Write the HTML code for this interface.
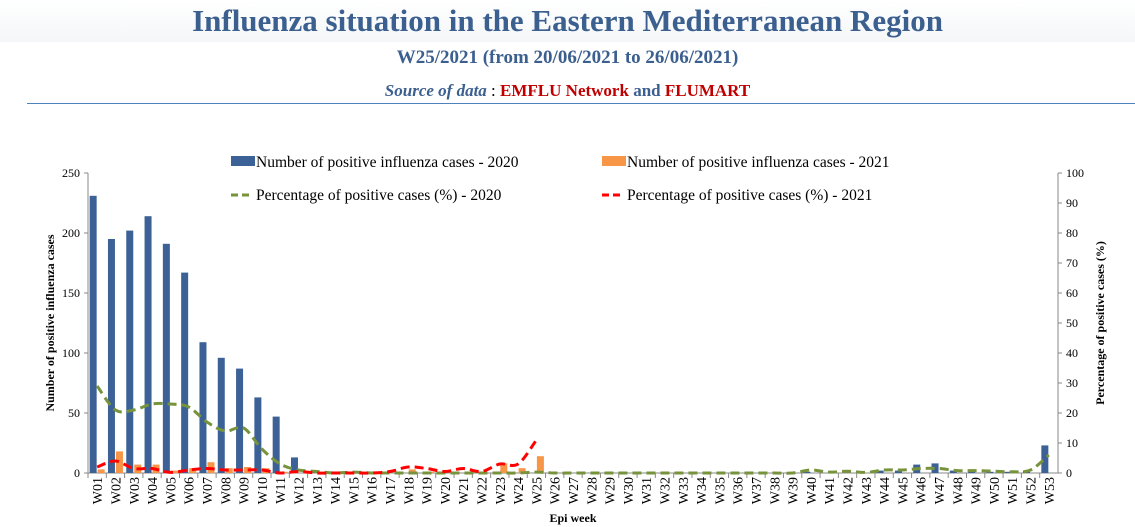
<!DOCTYPE html>
<html><head><meta charset="utf-8"><style>
body{margin:0;width:1135px;height:527px;background:#fff;overflow:hidden;font-family:"Liberation Serif",serif;}
#hdr{position:absolute;left:0;top:0;width:1135px;height:42px;background:linear-gradient(#fff,#f4f6f8);}
.t{position:absolute;left:0;width:1135px;text-align:center;font-weight:bold;color:#3b5f8f;}
</style></head><body>
<div id="hdr"></div>
<div class="t" style="top:3px;font-size:31px;">Influenza situation in the Eastern Mediterranean Region</div>
<div class="t" style="top:47px;font-size:19px;">W25/2021 (from 20/06/2021 to 26/06/2021)</div>
<div class="t" style="top:81px;font-size:17px;"><i>Source of data</i> <span style="font-weight:normal;color:#000">:</span> <span style="color:#c00000">EMFLU Network</span> and <span style="color:#c00000">FLUMART</span></div>
<div style="position:absolute;left:27px;top:103px;width:1108px;height:1px;background:#4f81bd"></div>
<svg id="chart" width="1135" height="527" style="position:absolute;left:0;top:0" font-family="Liberation Serif, serif"></svg>
<script>
const weeks=[];for(let i=1;i<=53;i++)weeks.push('W'+String(i).padStart(2,'0'));
const cases2020=[231,195,202,214,191,167,109,96,87,63,47,13,1,1,0,0,0,0,0,0,0,0,0,0,0,0,0,0,0,0,0,0,0,0,0,0,0,0,0,1,0,0,0,2,2,7,8,2,1,1,1,2,23];
const cases2021=[3,18,7,7,2,4,9,4,5,4,1,0,0,0,0,0,0,3,1,0,0,0,8,4,14];
const pct2020=[29,21,21,23,23,22,17,14,15,8,3,1,0.5,0,0.3,0,0,0,0,0,0,0,0,0,0.3,0,0,0,0,0,0,0,0,0,0,0,0,0,0,1,0.3,0.6,0.2,1,1,1.5,1.5,0.8,0.8,0.6,0.4,1,6];
const pct2021=[2,4,1.5,1.5,0.2,1,1.5,1,1,1,0,0.5,0,0,0,0,0.5,2,1.5,0.5,1.5,0.5,3,3,11];
const leftTicks=[0,50,100,150,200,250];
const rightTicks=[0,10,20,30,40,50,60,70,80,90,100];
const NS='http://www.w3.org/2000/svg',svg=document.getElementById('chart');
const X0=88,X1=1058,Y0=473,Y1=173,bw=(X1-X0)/weeks.length;
const xc=i=>X0+bw*(i+0.5),yl=v=>Y0-(v/250)*(Y0-Y1),yr=v=>Y0-(v/100)*(Y0-Y1);
function mk(t,a,txt){const e=document.createElementNS(NS,t);for(const k in a)e.setAttribute(k,a[k]);if(txt!=null)e.textContent=txt;svg.appendChild(e);return e;}
let e;
e=mk('line',{x1:X0,y1:Y1,x2:X0,y2:Y0,stroke:'#888'});
e=mk('line',{x1:X1,y1:Y1,x2:X1,y2:Y0,stroke:'#888'});
e=mk('line',{x1:X0,y1:Y0,x2:X1,y2:Y0,stroke:'#888'});
leftTicks.forEach(v=>{mk('line',{x1:X0-4,y1:yl(v),x2:X0,y2:yl(v),stroke:'#888'});
e=mk('text',{x:X0-8,y:yl(v)+4,'text-anchor':'end','font-size':12},v);});
rightTicks.forEach(v=>{mk('line',{x1:X1,y1:yr(v),x2:X1+4,y2:yr(v),stroke:'#888'});
e=mk('text',{x:X1+8,y:yr(v)+4,'font-size':12},v);});
weeks.forEach((w,i)=>{mk('line',{x1:X0+bw*i,y1:Y0,x2:X0+bw*i,y2:Y0+5,stroke:'#888'});
e=mk('text',{x:0,y:0,'font-size':14,'text-anchor':'end',transform:`translate(${xc(i)+5},${Y0+4}) rotate(-90)`},w);});
const w=7;
cases2020.forEach((v,i)=>{e=mk('rect',{x:xc(i)-w-0.5,y:yl(v),width:w,height:Y0-yl(v),fill:'#3b6196'});});
cases2021.forEach((v,i)=>{e=mk('rect',{x:xc(i)+0.5,y:yl(v),width:w,height:Y0-yl(v),fill:'#f79646'});});
function smooth(arr){const p=arr.map((v,i)=>[xc(i),yr(v)]);let d=`M${p[0][0]},${p[0][1]}`;
for(let i=0;i<p.length-1;i++){const a=p[Math.max(i-1,0)],b=p[i],c=p[i+1],dd=p[Math.min(i+2,p.length-1)];
d+=` C${b[0]+(c[0]-a[0])/6},${b[1]+(c[1]-a[1])/6} ${c[0]-(dd[0]-b[0])/6},${c[1]-(dd[1]-b[1])/6} ${c[0]},${c[1]}`;}return d;}
e=mk('path',{d:smooth(pct2020),fill:'none',stroke:'#77933c','stroke-width':3,'stroke-dasharray':'9,5'});
e=mk('path',{d:smooth(pct2021),fill:'none',stroke:'#ff0000','stroke-width':3,'stroke-dasharray':'9,5'});
e=mk('text',{x:0,y:0,'font-size':12,'font-weight':'bold','text-anchor':'middle',transform:'translate(54,323) rotate(-90)'},'Number of positive influenza cases');
e=mk('text',{x:0,y:0,'font-size':12,'font-weight':'bold','text-anchor':'middle',transform:'translate(1104,323) rotate(-90)'},'Percentage of positive cases (%)');
e=mk('text',{x:573,y:522,'font-size':12,'font-weight':'bold','text-anchor':'middle'},'Epi week');
e=mk('rect',{x:231,y:156,width:24,height:10,fill:'#3b6196'});
e=mk('text',{x:256,y:167,'font-size':15.5},'Number of positive influenza cases  - 2020');
e=mk('rect',{x:602,y:156,width:24,height:10,fill:'#f79646'});
e=mk('text',{x:627,y:167,'font-size':15.5},'Number of positive influenza cases  - 2021');
e=mk('line',{x1:231,y1:195,x2:253,y2:195,stroke:'#77933c','stroke-width':3,'stroke-dasharray':'7,4'});
e=mk('text',{x:256,y:200,'font-size':15.5},'Percentage of positive cases (%)  - 2020');
e=mk('line',{x1:602,y1:195,x2:624,y2:195,stroke:'#ff0000','stroke-width':3,'stroke-dasharray':'7,4'});
e=mk('text',{x:627,y:200,'font-size':15.5},'Percentage of positive cases (%)  - 2021');
</script>
</body></html>
